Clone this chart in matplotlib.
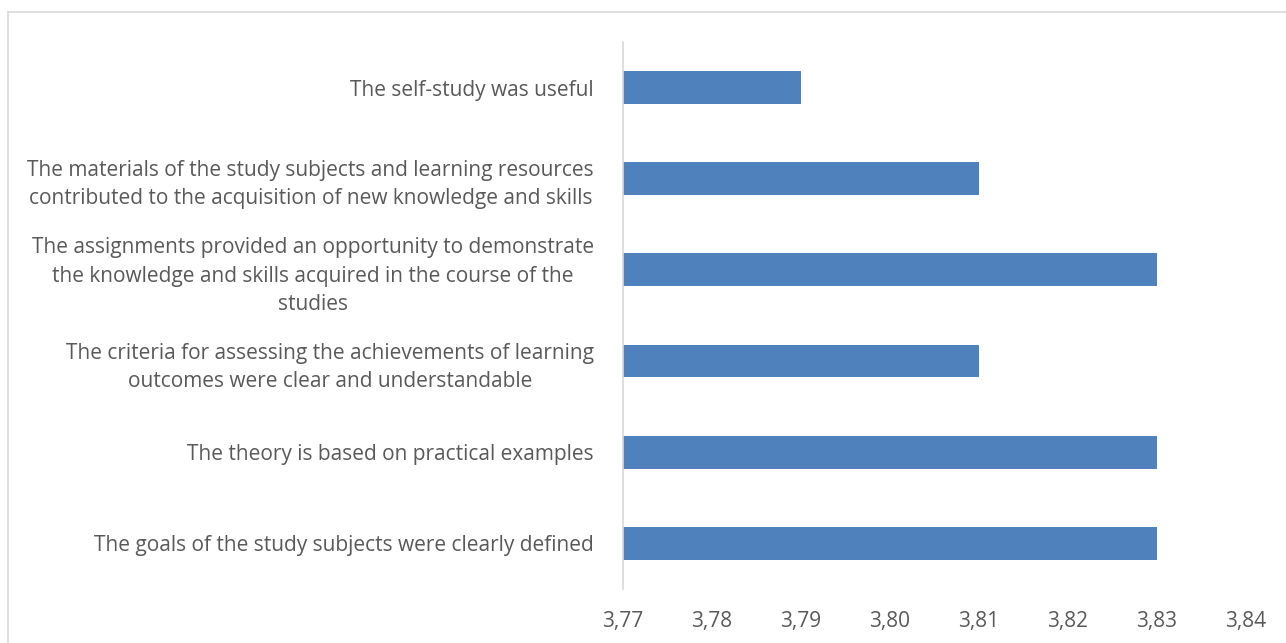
import matplotlib.pyplot as plt
from matplotlib.lines import Line2D

# Survey statements (bottom to top) and mean scores
statements = [
    "The goals of the study subjects were clearly defined",
    "The theory is based on practical examples",
    "The criteria for assessing the achievements of learning\noutcomes were clear and understandable",
    "The assignments provided an opportunity to demonstrate\nthe knowledge and skills acquired in the course of the\nstudies",
    "The materials of the study subjects and learning resources\ncontributed to the acquisition of new knowledge and skills",
    "The self-study was useful",
]
scores = [3.83, 3.83, 3.81, 3.83, 3.81, 3.79]
x_ticks = [3.77, 3.78, 3.79, 3.80, 3.81, 3.82, 3.83, 3.84]
x_tick_labels = ["3,77", "3,78", "3,79", "3,80", "3,81", "3,82", "3,83", "3,84"]

plt.rcParams['font.family'] = ['Open Sans', 'DejaVu Sans']

fig = plt.figure(figsize=(12.86, 6.43), dpi=100)
ax = fig.add_axes([0.4844, 0.084, 0.4845, 0.8507])

pos = list(range(len(statements)))
ax.barh(pos, [s - 3.77 for s in scores], left=3.77, height=0.36, color="#4F81BD")

ax.set_xlim(3.77, 3.84)
ax.set_ylim(-0.5, len(statements) - 0.5)
ax.set_xticks(x_ticks)
ax.set_xticklabels(x_tick_labels)
ax.set_yticks(pos)
ax.set_yticklabels(statements, multialignment="center", linespacing=1.45)

ax.tick_params(axis="x", length=0, pad=16, labelsize=15, colors="#595959")
ax.tick_params(axis="y", length=0, pad=21, labelsize=15, colors="#595959")

for side in ["top", "right", "bottom"]:
    ax.spines[side].set_visible(False)
ax.spines["left"].set_color("#D9D9D9")
ax.spines["left"].set_linewidth(1.2)

# Chart area border (top and left visible)
fig.add_artist(Line2D([8 / 1286, 1.0], [1 - 12 / 643] * 2, color="#D9D9D9", lw=1.2))
fig.add_artist(Line2D([8 / 1286] * 2, [0.0, 1 - 12 / 643], color="#D9D9D9", lw=1.2))

fig.savefig("out.png", dpi=100)
